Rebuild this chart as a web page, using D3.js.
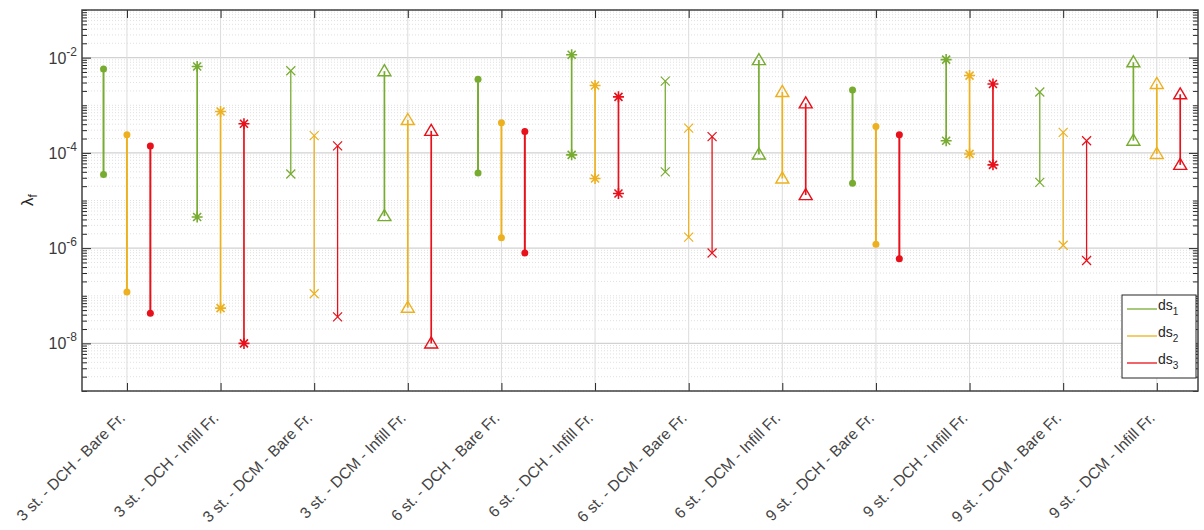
<!DOCTYPE html>
<html>
<head>
<meta charset="utf-8">
<script src="https://cdn.jsdelivr.net/npm/d3@7"></script>
<style>
  body { margin: 0; background: #fff; }
  text { font-family: "Liberation Sans", Arial, sans-serif; fill: #262626; }
</style>
</head>
<body>
<svg width="1204" height="530"></svg>
<script>
// categories on the x axis
var categories = ["3 st. - DCH - Bare Fr.", "3 st. - DCH - Infill Fr.", "3 st. - DCM - Bare Fr.", "3 st. - DCM - Infill Fr.",
  "6 st. - DCH - Bare Fr.", "6 st. - DCH - Infill Fr.", "6 st. - DCM - Bare Fr.", "6 st. - DCM - Infill Fr.",
  "9 st. - DCH - Bare Fr.", "9 st. - DCH - Infill Fr.", "9 st. - DCM - Bare Fr.", "9 st. - DCM - Infill Fr."];

// marker used for each category
var markers = ["dot", "star", "x", "tri", "dot", "star", "x", "tri", "dot", "star", "x", "tri"];

// lambda_f ranges (upper / lower) for each damage state
var ds1High = [5.8e-3, 6.5e-3, 5.3e-3, 5.2e-3, 3.5e-3, 1.15e-2, 3.2e-3, 8.9e-3, 2.1e-3, 9.1e-3, 1.9e-3, 8.0e-3];
var ds1Low  = [3.5e-5, 4.5e-6, 3.6e-5, 4.7e-6, 3.8e-5, 9.1e-5, 4.0e-5, 9.3e-5, 2.3e-5, 1.8e-4, 2.4e-5, 1.8e-4];
var ds2High = [2.4e-4, 7.4e-4, 2.3e-4, 4.9e-4, 4.3e-4, 2.6e-3, 3.3e-4, 1.9e-3, 3.6e-4, 4.2e-3, 2.7e-4, 2.8e-3];
var ds2Low  = [1.2e-7, 5.5e-8, 1.1e-7, 5.6e-8, 1.66e-6, 2.9e-5, 1.7e-6, 2.9e-5, 1.2e-6, 9.5e-5, 1.15e-6, 9.5e-5];
var ds3High = [1.4e-4, 4.1e-4, 1.4e-4, 2.9e-4, 2.8e-4, 1.5e-3, 2.2e-4, 1.1e-3, 2.4e-4, 2.8e-3, 1.8e-4, 1.7e-3];
var ds3Low  = [4.3e-8, 1.0e-8, 3.6e-8, 1.0e-8, 7.9e-7, 1.4e-5, 7.9e-7, 1.3e-5, 6.0e-7, 5.6e-5, 5.5e-7, 5.6e-5];

var seriesNames = ["ds", "ds", "ds"];
var seriesSubs = ["1", "2", "3"];
var yTickLabels = ["-8", "-6", "-4", "-2"];

var series = [
  {high: ds1High, low: ds1Low, color: "#77ac30", off: -0.25},
  {high: ds2High, low: ds2Low, color: "#edb120", off: 0},
  {high: ds3High, low: ds3Low, color: "#e8101a", off: 0.25}
];

// plot box (note: "top" is a reserved window property, so use other names)
var pLeft = 82, pRight = 1198, pTop = 10, pBottom = 391;

var svg = d3.select("svg");

var x = d3.scaleLinear().domain([0.52, 12.44]).range([pLeft, pRight]);
var y = d3.scaleLog().domain([1e-9, 1e-1]).range([pBottom, pTop]);

// tick values for the log axis
var majors = yTickLabels.map(function(p) { return Math.pow(10, +p); });
var minors = [];
for (var e = -9; e <= -2; e++) {
  for (var m = 1; m <= 9; m++) {
    if (m == 1 && e % 2 == 0) continue;
    minors.push(m * Math.pow(10, e));
  }
}
minors.push(1e-1);

var grid = svg.append("g");

// minor grid (dotted)
grid.selectAll("line.minor").data(minors).enter().append("line")
  .attr("x1", pLeft).attr("x2", pRight)
  .attr("y1", function(d) { return y(d); }).attr("y2", function(d) { return y(d); })
  .attr("stroke", "#d8d8d8").attr("stroke-width", 0.8).attr("stroke-dasharray", "1,2");

// major grid
grid.selectAll("line.major").data(majors).enter().append("line")
  .attr("x1", pLeft).attr("x2", pRight)
  .attr("y1", function(d) { return y(d); }).attr("y2", function(d) { return y(d); })
  .attr("stroke", "#d2d2d2").attr("stroke-width", 1.2);

// vertical grid at the categories
grid.selectAll("line.vx").data(categories).enter().append("line")
  .attr("x1", function(d, i) { return x(i + 1); }).attr("x2", function(d, i) { return x(i + 1); })
  .attr("y1", pTop).attr("y2", pBottom)
  .attr("stroke", "#dcdcdc").attr("stroke-width", 1);

// axes: left / right with inward ticks
svg.append("g").attr("transform", "translate(" + pLeft + ",0)")
  .call(d3.axisLeft(y).tickValues(minors).tickSize(-5).tickFormat(""));
svg.append("g").attr("transform", "translate(" + pLeft + ",0)")
  .call(d3.axisLeft(y).tickValues(majors).tickSize(-9).tickFormat(""));
svg.append("g").attr("transform", "translate(" + pRight + ",0)")
  .call(d3.axisRight(y).tickValues(minors).tickSize(-5).tickFormat(""));
svg.append("g").attr("transform", "translate(" + pRight + ",0)")
  .call(d3.axisRight(y).tickValues(majors).tickSize(-9).tickFormat(""));

// bottom / top axes
var xTicks = categories.map(function(d, i) { return i + 1; });
svg.append("g").attr("transform", "translate(0," + pBottom + ")")
  .call(d3.axisBottom(x).tickValues(xTicks).tickSize(-8).tickFormat(""));
svg.append("g").attr("transform", "translate(0," + pTop + ")")
  .call(d3.axisTop(x).tickValues(xTicks).tickSize(-8).tickFormat(""));

svg.selectAll(".domain").remove();
svg.selectAll(".tick line").attr("stroke", "#262626").attr("stroke-width", 1);

// box
svg.append("rect").attr("x", pLeft).attr("y", pTop)
  .attr("width", pRight - pLeft).attr("height", pBottom - pTop)
  .attr("fill", "none").attr("stroke", "#404040").attr("stroke-width", 1.5);

// y tick labels 10^n
var yl = svg.selectAll("text.ylab").data(majors).enter().append("text")
  .attr("x", 77).attr("y", function(d) { return y(d) + 6; })
  .attr("text-anchor", "end").style("font-size", "16px").style("fill", "#3a3a3a");
yl.append("tspan").text("10");
yl.append("tspan").attr("dy", -8).style("font-size", "12px")
  .text(function(d, i) { return yTickLabels[i]; });

// y axis title
var yt = svg.append("text").attr("transform", "translate(33,200) rotate(-90)")
  .attr("text-anchor", "middle").style("font-size", "17px");
yt.append("tspan").text("λ");
yt.append("tspan").attr("dy", 4).style("font-size", "12px").text("f");

// x tick labels
svg.selectAll("text.xlab").data(categories).enter().append("text")
  .attr("transform", function(d, i) { return "translate(" + (x(i + 1) - 1) + "," + (pBottom + 28) + ") rotate(-45)"; })
  .attr("text-anchor", "end")
  .style("font-size", "15.5px").style("fill", "#444")
  .text(function(d) { return d; });

// range lines and markers
var plot = svg.append("g");
series.forEach(function(s) {
  var g = plot.append("g");
  categories.forEach(function(c, i) {
    var cx = x(i + 1 + s.off);
    var mk = markers[i];
    g.append("line")
      .attr("x1", cx).attr("x2", cx)
      .attr("y1", y(s.high[i])).attr("y2", y(s.low[i]))
      .attr("stroke", s.color).attr("stroke-width", mk == "x" ? 1.3 : (mk == "dot" ? 2 : 1.7));
    [s.high[i], s.low[i]].forEach(function(v) {
      var cy = y(v);
      if (mk == "dot") {
        g.append("circle").attr("cx", cx).attr("cy", cy).attr("r", 3.5).attr("fill", s.color);
      } else if (mk == "star") {
        var r = 5.5, q = 4;
        g.append("path")
          .attr("d", "M" + (cx - r) + "," + cy + "h" + 2 * r + "M" + cx + "," + (cy - r) + "v" + 2 * r +
            "M" + (cx - q) + "," + (cy - q) + "l" + 2 * q + "," + 2 * q + "M" + (cx - q) + "," + (cy + q) + "l" + 2 * q + "," + (-2 * q))
          .attr("stroke", s.color).attr("stroke-width", 1.6).attr("fill", "none");
      } else if (mk == "x") {
        var k = 4.5;
        g.append("path")
          .attr("d", "M" + (cx - k) + "," + (cy - k) + "l" + 2 * k + "," + 2 * k + "M" + (cx - k) + "," + (cy + k) + "l" + 2 * k + "," + (-2 * k))
          .attr("stroke", s.color).attr("stroke-width", 1.2).attr("fill", "none");
      } else {
        var t = 6.5;
        g.append("path")
          .attr("d", "M" + cx + "," + (cy - t) + "L" + (cx + t) + "," + (cy + t * 0.7) + "L" + (cx - t) + "," + (cy + t * 0.7) + "Z")
          .attr("stroke", s.color).attr("stroke-width", 1.4).attr("fill", "none");
      }
    });
  });
});

// legend
var lg = svg.append("g");
lg.append("rect").attr("x", 1122).attr("y", 295).attr("width", 74).attr("height", 83)
  .attr("fill", "#fff").attr("stroke", "#262626").attr("stroke-width", 1);
series.forEach(function(s, i) {
  var ly = 309 + i * 27;
  lg.append("line").attr("x1", 1127).attr("x2", 1157).attr("y1", ly).attr("y2", ly)
    .attr("stroke", s.color).attr("stroke-width", 1.3);
  var t = lg.append("text").attr("x", 1158).attr("y", ly + 1).style("font-size", "14px");
  t.append("tspan").text(seriesNames[i]);
  t.append("tspan").attr("dy", 5).style("font-size", "10px").text(seriesSubs[i]);
});
</script>
</body>
</html>
